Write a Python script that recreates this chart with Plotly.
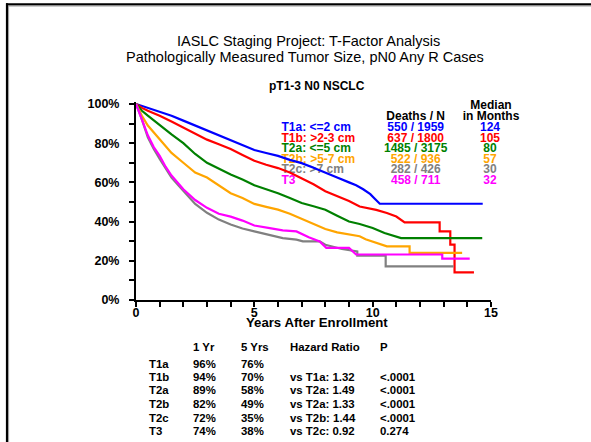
import plotly.graph_objects as go

# ---------------- data ----------------
groups = ["T1a", "T1b", "T2a", "T2b", "T2c", "T3"]
legend_labels = ["T1a: &lt;=2 cm", "T1b: &gt;2-3 cm", "T2a: &lt;=5 cm", "T2b: &gt;5-7 cm", "T2c: &gt;7 cm", "T3"]
deaths_n = ["550 / 1959", "637 / 1800", "1485 / 3175", "522 / 936", "282 / 426", "458 / 711"]
median_months = ["124", "105", "80", "57", "30", "32"]
colors = ["#0000FF", "#FF0000", "#008000", "#FFA500", "#808080", "#FF00FF"]

t1a_t = [0, 0.25, 0.5, 0.75, 1, 1.5, 2, 2.5, 3, 3.5, 4, 4.5, 5, 5.5, 6, 6.5, 7, 7.5, 8, 8.5, 9, 9.3, 9.6, 9.9, 10.1, 10.3, 14.65]
t1a_s = [1, 0.99, 0.98, 0.97, 0.96, 0.94, 0.915, 0.89, 0.865, 0.84, 0.815, 0.79, 0.765, 0.75, 0.735, 0.715, 0.698, 0.675, 0.648, 0.625, 0.6, 0.585, 0.565, 0.54, 0.515, 0.491, 0.491]

t1b_t = [0, 0.25, 0.5, 0.75, 1, 1.5, 2, 2.5, 3, 3.5, 4, 4.5, 5, 5.5, 6, 6.5, 7, 7.5, 8, 8.5, 9, 9.45, 10.15, 10.6, 11.0, 11.35, 12.83, 12.83, 13.28, 13.28, 13.46, 13.46, 14.28]
t1b_s = [1, 0.98, 0.965, 0.953, 0.94, 0.91, 0.878, 0.848, 0.818, 0.795, 0.77, 0.74, 0.71, 0.69, 0.673, 0.65, 0.622, 0.59, 0.555, 0.53, 0.505, 0.477, 0.46, 0.444, 0.426, 0.396, 0.396, 0.35, 0.35, 0.282, 0.282, 0.141, 0.141]

t2a_t = [0, 0.25, 0.5, 0.75, 1, 1.5, 2, 2.5, 3, 3.5, 4, 4.5, 5, 5.5, 6, 6.5, 7, 7.5, 8, 8.5, 9, 9.45, 10, 10.5, 10.8, 11.2, 14.63]
t2a_s = [1, 0.965, 0.94, 0.915, 0.89, 0.845, 0.8, 0.745, 0.7, 0.67, 0.64, 0.615, 0.585, 0.565, 0.545, 0.52, 0.495, 0.478, 0.46, 0.43, 0.4, 0.388, 0.367, 0.342, 0.33, 0.316, 0.316]

t2b_t = [0, 0.25, 0.5, 0.75, 1, 1.5, 2, 2.5, 3, 3.5, 4, 4.5, 5, 5.5, 6, 6.5, 7, 7.5, 8, 8.5, 9, 9.45, 9.7, 10.15, 10.6, 11.56, 11.56, 13.78]
t2b_s = [1, 0.94, 0.89, 0.855, 0.82, 0.75, 0.7, 0.65, 0.625, 0.585, 0.545, 0.52, 0.49, 0.475, 0.461, 0.44, 0.413, 0.385, 0.362, 0.345, 0.333, 0.325, 0.31, 0.291, 0.274, 0.274, 0.24, 0.24]

t2c_t = [0, 0.1, 0.25, 0.5, 0.75, 1, 1.25, 1.5, 1.75, 2, 2.5, 3, 3.5, 4, 4.5, 5, 5.65, 6.2, 6.78, 7.05, 7.76, 8.0, 8.7, 9.35, 9.35, 10.55, 10.55, 13.42]
t2c_s = [1, 0.97, 0.92, 0.83, 0.77, 0.72, 0.67, 0.625, 0.59, 0.555, 0.49, 0.445, 0.41, 0.385, 0.365, 0.35, 0.333, 0.316, 0.308, 0.299, 0.299, 0.282, 0.26, 0.248, 0.226, 0.226, 0.172, 0.172]

t3_t = [0, 0.1, 0.25, 0.5, 0.75, 1, 1.25, 1.5, 1.75, 2, 2.5, 3, 3.5, 4, 4.5, 5, 5.65, 6.2, 6.78, 7.3, 7.76, 8.04, 9.0, 9.3, 12.94, 12.94, 14.1]
t3_s = [1, 0.97, 0.92, 0.84, 0.78, 0.735, 0.68, 0.635, 0.6, 0.565, 0.51, 0.47, 0.44, 0.425, 0.405, 0.38, 0.367, 0.355, 0.35, 0.32, 0.299, 0.266, 0.266, 0.232, 0.232, 0.211, 0.211]

series_t = [t1a_t, t1b_t, t2a_t, t2b_t, t2c_t, t3_t]
series_s = [t1a_s, t1b_s, t2a_s, t2b_s, t2c_s, t3_s]

table_header = ["1 Yr", "5 Yrs", "Hazard Ratio", "P"]
surv_1yr = ["96%", "94%", "89%", "82%", "72%", "74%"]
surv_5yr = ["76%", "70%", "58%", "49%", "35%", "38%"]
hazard_ratio = ["", "vs T1a: 1.32", "vs T2a: 1.49", "vs T2a: 1.33", "vs T2b: 1.44", "vs T2c: 0.92"]
p_values = ["", "<.0001", "<.0001", "<.0001", "<.0001", "0.274"]

# ---------------- geometry ----------------
FW, FH = 591, 442
L, R, T, B = 136, 100, 102, 142
W = FW - L - R
H = FH - T - B
XMAX, YMAX = 15, 1.01
FONT = "Liberation Sans, Arial, sans-serif"


def px_x(px):
    return (px - L) / W


def px_y(py):
    return (FH - B - py) / H


def dx(px):
    return (px - L) / W * XMAX


def dy(py):
    return (FH - B - py) / H * YMAX


fig = go.Figure()

# legend block as text traces (drawn under the curves)
row_y = [128.3, 138.8, 149.3, 159.8, 170.3, 180.8]
fig.add_trace(go.Scatter(
    x=[dx(281.5)] * len(groups), y=[dy(v) for v in row_y],
    text=["<b>%s</b>" % s for s in legend_labels], mode="text",
    textposition="middle right", textfont=dict(family=FONT, size=12, color=colors),
    hoverinfo="skip", showlegend=False, cliponaxis=False))
fig.add_trace(go.Scatter(
    x=[dx(415.7)] * len(groups), y=[dy(v) for v in row_y],
    text=["<b>%s</b>" % s for s in deaths_n], mode="text",
    textposition="middle center", textfont=dict(family=FONT, size=12, color=colors),
    hoverinfo="skip", showlegend=False, cliponaxis=False))
fig.add_trace(go.Scatter(
    x=[dx(490)] * len(groups), y=[dy(v) for v in row_y],
    text=["<b>%s</b>" % s for s in median_months], mode="text",
    textposition="middle center", textfont=dict(family=FONT, size=12, color=colors),
    hoverinfo="skip", showlegend=False, cliponaxis=False))
fig.add_trace(go.Scatter(
    x=[dx(415.7), dx(491), dx(491)], y=[dy(116.5), dy(105.7), dy(116.5)],
    text=["<b>Deaths / N</b>", "<b>Median</b>", "<b>in Months</b>"], mode="text",
    textposition="middle center", textfont=dict(family=FONT, size=12, color="black"),
    hoverinfo="skip", showlegend=False, cliponaxis=False))

# survival curves
for g, tt, ss, c in zip(groups, series_t, series_s, colors):
    fig.add_trace(go.Scatter(x=tt, y=ss, mode="lines", name=g,
                             line=dict(color=c, width=2.2), showlegend=False,
                             hoverinfo="skip"))

ann = []


def add_text(px, py, text, size, bold=False, xanchor="center", color="black"):
    ann.append(dict(x=px_x(px), y=px_y(py), xref="paper", yref="paper",
                    text=("<b>%s</b>" % text) if bold else text, showarrow=False,
                    xanchor=xanchor, yanchor="middle",
                    font=dict(family=FONT, size=size, color=color)))


add_text(308, 41, "IASLC Staging Project: T-Factor Analysis", 14.5)
add_text(305, 57, "Pathologically Measured Tumor Size, pN0 Any R Cases", 14.5)
add_text(317, 86, "pT1-3 N0 NSCLC", 12, bold=True)
add_text(316.7, 322.8, "Years After Enrollment", 13.2, bold=True)

# bottom table
col_x = [190.7, 239.3, 287.7, 378.3]
add_row_y = [363.5, 377, 390.3, 404, 417.7, 431.2]
for cx, h in zip(col_x, table_header):
    add_text(cx, 347.3, h, 11.4, bold=True, xanchor="left")
for i, g in enumerate(groups):
    y = add_row_y[i]
    add_text(147.3, y, g, 11.4, bold=True, xanchor="left")
    add_text(col_x[0], y, surv_1yr[i], 11.4, bold=True, xanchor="left")
    add_text(col_x[1], y, surv_5yr[i], 11.4, bold=True, xanchor="left")
    if hazard_ratio[i]:
        add_text(col_x[2], y, hazard_ratio[i], 11.4, bold=True, xanchor="left")
    if p_values[i]:
        add_text(col_x[3], y, p_values[i].replace("<", "&lt;"), 11.4, bold=True, xanchor="left")

# frame (partly outside the window)
shapes = [
    dict(type="line", xref="paper", yref="paper", x0=px_x(6), x1=px_x(600), y0=px_y(4.3), y1=px_y(4.3),
         line=dict(color="black", width=2.2), layer="above"),
    dict(type="line", xref="paper", yref="paper", x0=px_x(7), x1=px_x(7), y0=px_y(3.2), y1=px_y(460),
         line=dict(color="black", width=2.2), layer="above"),
    dict(type="line", xref="paper", yref="paper", x0=px_x(8.5), x1=px_x(600), y0=px_y(6), y1=px_y(6),
         line=dict(color="#9a9a9a", width=1), layer="above"),
    dict(type="line", xref="paper", yref="paper", x0=px_x(8.6), x1=px_x(8.6), y0=px_y(6), y1=px_y(460),
         line=dict(color="#9a9a9a", width=1), layer="above"),
]

tickfont = dict(family=FONT, size=12.5, color="black", weight="bold")
fig.update_layout(
    width=FW, height=FH, margin=dict(l=L, r=R, t=T, b=B, pad=0),
    paper_bgcolor="white", plot_bgcolor="white",
    annotations=ann, shapes=shapes,
    xaxis=dict(range=[0, XMAX], tick0=0, dtick=5, ticks="outside", ticklen=5, tickwidth=1.5,
               tickcolor="black", showline=True, linecolor="black", linewidth=2,
               showgrid=False, zeroline=False, tickfont=tickfont, ticklabelstandoff=-5,
               minor=dict(dtick=1, ticks="outside", ticklen=5, tickwidth=1.5, tickcolor="black", showgrid=False)),
    yaxis=dict(range=[0, YMAX], tick0=0, dtick=0.2, tickformat=".0%", ticks="outside", ticklen=5,
               tickwidth=1.5, tickcolor="black", showline=True, linecolor="black", linewidth=2,
               showgrid=False, zeroline=False, tickfont=tickfont, ticklabelstandoff=7,
               minor=dict(dtick=0.1, ticks="outside", ticklen=5, tickwidth=1.5, tickcolor="black", showgrid=False)),
)

fig.write_html("out.html", config={"displayModeBar": False},
               post_script="document.body.style.margin='0';document.body.style.overflow='hidden';")
